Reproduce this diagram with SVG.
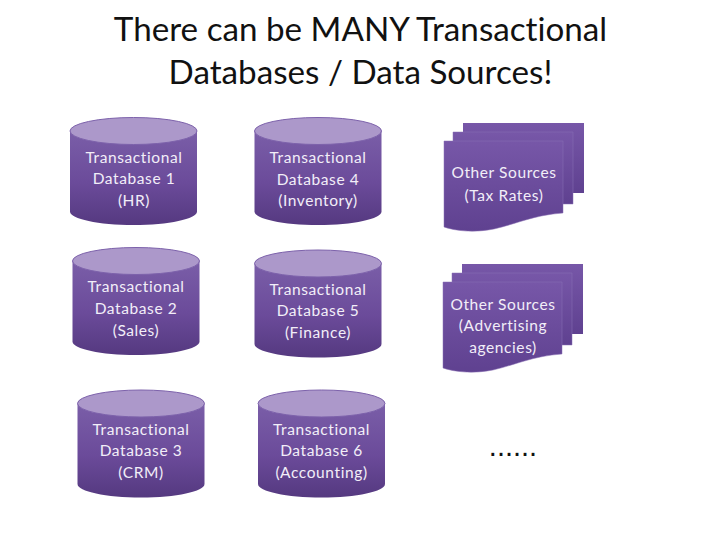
<svg xmlns="http://www.w3.org/2000/svg" width="720" height="540" viewBox="0 0 720 540">
<defs>
<linearGradient id="body" x1="0" y1="0" x2="0" y2="1"><stop offset="0" stop-color="#7a5ea8"/><stop offset="0.55" stop-color="#6b4b9a"/><stop offset="1" stop-color="#553980"/></linearGradient>
<linearGradient id="doc" x1="0" y1="0" x2="0" y2="1"><stop offset="0" stop-color="#7757a8"/><stop offset="1" stop-color="#5f4190"/></linearGradient>
<path id="cyl" d="M0 13.500V94C0 101.500 28.500 107.500 63.500 107.500S127 101.500 127 94V13.500Z" fill="url(#body)"/>
<ellipse id="cap" cx="63.500" cy="13.500" rx="63.500" ry="13.500" fill="#ac98ca" stroke="#7d62ab" stroke-width="1"/>
<g id="stack">
<path d="M19 -18H140V52H19Z" fill="url(#doc)"/>
<path d="M9 -9H129V63H9Z" fill="url(#doc)" stroke="#8a70b5" stroke-width="0.500"/>
<path d="M0 0H119V72C90 74 72 83 50 88C30 92 12 90 0 86Z" fill="url(#doc)" stroke="#8a70b5" stroke-width="0.500"/>
</g>
</defs>
<style>
text{font-family:"Lato","Liberation Sans",sans-serif;text-anchor:middle;font-variant-ligatures:none}
.t{font-size:33.200px;fill:#111}
.l{font-size:15.500px;fill:#f2eef8;letter-spacing:0.600px}
.d{font-family:"Liberation Sans",sans-serif;font-size:29px;fill:#111}
</style>
<rect width="720" height="540" fill="#fff"/>
<g id="title"><text class="t" x="360.500" y="41">There can be MANY Transactional</text><text class="t" x="360.500" y="84">Databases / Data Sources!</text></g>
<g id="db1" transform="translate(70,117.500)"><use href="#cyl"/><use href="#cap"/><text class="l" x="64" y="45">Transactional</text><text class="l" x="64" y="66">Database 1</text><text class="l" x="64" y="88">(HR)</text></g>
<g id="db4" transform="translate(254.500,117.500)"><use href="#cyl"/><use href="#cap"/><text class="l" x="63.500" y="45">Transactional</text><text class="l" x="63.500" y="67">Database 4</text><text class="l" x="63.500" y="88">(Inventory)</text></g>
<g id="db2" transform="translate(72.500,247.500)"><use href="#cyl"/><use href="#cap"/><text class="l" x="63.500" y="44">Transactional</text><text class="l" x="63.500" y="66">Database 2</text><text class="l" x="63.500" y="88">(Sales)</text></g>
<g id="db5" transform="translate(254.500,250)"><use href="#cyl"/><use href="#cap"/><text class="l" x="63.500" y="44.500">Transactional</text><text class="l" x="63.500" y="66">Database 5</text><text class="l" x="63.500" y="88">(Finance)</text></g>
<g id="db3" transform="translate(77.500,390)"><use href="#cyl"/><use href="#cap"/><text class="l" x="63.500" y="44.500">Transactional</text><text class="l" x="63.500" y="66">Database 3</text><text class="l" x="63.500" y="88">(CRM)</text></g>
<g id="db6" transform="translate(258,390)"><use href="#cyl"/><use href="#cap"/><text class="l" x="63.500" y="44.500">Transactional</text><text class="l" x="63.500" y="66">Database 6</text><text class="l" x="63.500" y="88">(Accounting)</text></g>
<g id="src1" transform="translate(444,141)"><use href="#stack"/><text class="l" x="60" y="37">Other Sources</text><text class="l" x="60" y="60">(Tax Rates)</text></g>
<g id="src2" transform="translate(443,282)"><use href="#stack"/><text class="l" x="60" y="27.500">Other Sources</text><text class="l" x="60" y="49">(Advertising</text><text class="l" x="60" y="71">agencies)</text></g>
<g id="more"><text class="d" x="513" y="456">......</text></g>
<g id="connectors"/>
</svg>
